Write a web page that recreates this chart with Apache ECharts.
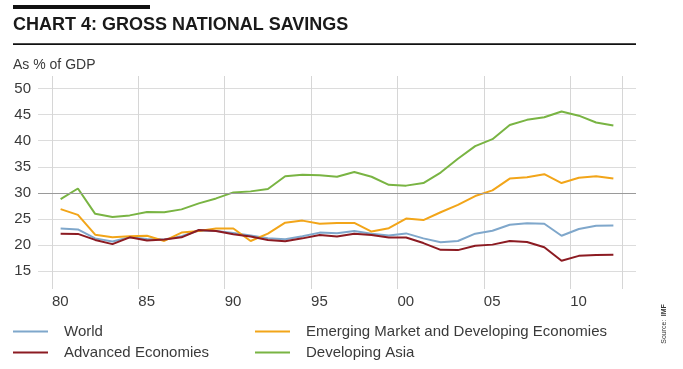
<!DOCTYPE html>
<html>
<head>
<meta charset="utf-8">
<script src="https://cdn.jsdelivr.net/npm/echarts@6/dist/echarts.min.js"></script>
<style>
html,body{margin:0;padding:0;background:#fff;}
#chart{width:683px;height:369px;}
</style>
</head>
<body>
<div id="chart"></div>
<script>
// Years (data plotted at mid-year)
var years = [1980,1981,1982,1983,1984,1985,1986,1987,1988,1989,1990,1991,1992,1993,1994,1995,1996,1997,1998,1999,2000,2001,2002,2003,2004,2005,2006,2007,2008,2009,2010,2011,2012];
var world    = [23.2,23.0,21.3,20.7,21.5,21.2,21.1,21.7,22.8,22.7,22.35,21.85,21.3,21.15,21.7,22.4,22.3,22.7,22.2,21.85,22.25,21.3,20.55,20.8,22.2,22.75,23.9,24.2,24.1,21.8,23.1,23.7,23.75];
var emde     = [26.9,25.8,22.0,21.5,21.7,21.8,20.8,22.4,22.7,23.2,23.2,20.8,22.2,24.3,24.7,24.1,24.25,24.25,22.6,23.25,25.1,24.8,26.3,27.7,29.4,30.5,32.75,33.0,33.6,31.9,32.9,33.2,32.75];
var advanced = [22.2,22.15,21.0,20.2,21.5,20.9,21.1,21.5,22.9,22.7,22.1,21.65,21.0,20.75,21.3,21.95,21.65,22.2,21.95,21.45,21.45,20.4,19.1,19.05,19.9,20.1,20.8,20.6,19.6,17.0,17.95,18.1,18.15];
var devAsia  = [28.8,30.85,26.0,25.4,25.7,26.35,26.3,26.85,28.0,28.95,30.1,30.3,30.75,33.2,33.5,33.4,33.1,34.0,33.1,31.55,31.4,31.9,33.9,36.55,38.97,40.3,43.0,44.0,44.5,45.6,44.8,43.5,42.9];
var xTickValues = [1980,1985,1990,1995,2000,2005,2010,2013];
var xLabelValues = [1980,1985,1990,1995,2000,2005,2010];
var yTickValues = [15,20,25,30,35,40,45,50];
var seriesNames = ['World','Emerging Market and Developing Economies','Advanced Economies','Developing Asia'];
var colors = ['#7fa7cb','#f2a519','#8c1b22','#79b443'];

var FONT = 'Liberation Sans, Arial, sans-serif';
function pairs(vals){ return years.map(function(y,i){ return [y + 0.5, vals[i]]; }); }

var chart = echarts.init(document.getElementById('chart'), null, {renderer:'canvas'});
var option = {
  animation:false,
  textStyle:{fontFamily: FONT, color:'#333'},
  title:[
    {text:'CHART 4: GROSS NATIONAL SAVINGS', left:13, top:16.5, padding:0, textStyle:{fontFamily:FONT, fontSize:18, fontWeight:'bold', color:'#1a1a1a', lineHeight:18}},
    {text:'As % of GDP', left:13, top:57, padding:0, textStyle:{fontFamily:FONT, fontSize:14, fontWeight:'normal', color:'#3a3a3a', lineHeight:16}}
  ],
  grid:{left:38, right:47, top:76, bottom:80, containLabel:false},
  xAxis:{
    type:'value', min:1979.19, max:2013.81,
    axisLine:{show:false},
    axisTick:{show:false, customValues:xTickValues},
    axisLabel:{customValues:xLabelValues, align:'left', margin:5, fontSize:15, color:'#3a3a3a', fontFamily:FONT,
      formatter:function(v){ return String(v).slice(2); }},
    splitLine:{show:true, lineStyle:{color:'#d6d6d6', width:1}}
  },
  yAxis:{
    type:'value', min:11.6, max:52.4,
    axisLine:{show:false},
    axisTick:{show:false, customValues:yTickValues},
    axisLabel:{customValues:yTickValues, margin:7, fontSize:15, color:'#3a3a3a', fontFamily:FONT},
    splitLine:{show:true, lineStyle:{color:'#dcdcdc', width:1}}
  },
  legend:[
    {data:['World','Advanced Economies'], orient:'vertical', left:13, top:323.5, padding:0, icon:'rect', itemWidth:35, itemHeight:2, itemGap:5,
     selectedMode:false, textStyle:{fontFamily:FONT, fontSize:15, lineHeight:16, color:'#3a3a3a', padding:[0,0,0,11]}},
    {data:['Emerging Market and Developing Economies','Developing Asia'], orient:'vertical', left:255, top:323.5, padding:0, icon:'rect', itemWidth:35, itemHeight:2, itemGap:5,
     selectedMode:false, textStyle:{fontFamily:FONT, fontSize:15, lineHeight:16, color:'#3a3a3a', padding:[0,0,0,11]}}
  ],
  series:[
    {type:'line', name:'_ref', data:[], silent:true, z:1,
     markLine:{silent:true, symbol:'none', label:{show:false}, lineStyle:{color:'#9a9a9a', width:1, type:'solid'}, data:[{yAxis:30}], animation:false}},
    {type:'line', name:seriesNames[0], data:pairs(world), showSymbol:false, symbol:'none', z:3, lineStyle:{color:colors[0], width:2}, itemStyle:{color:colors[0]}},
    {type:'line', name:seriesNames[1], data:pairs(emde), showSymbol:false, symbol:'none', z:3, lineStyle:{color:colors[1], width:2}, itemStyle:{color:colors[1]}},
    {type:'line', name:seriesNames[2], data:pairs(advanced), showSymbol:false, symbol:'none', z:3, lineStyle:{color:colors[2], width:2}, itemStyle:{color:colors[2]}},
    {type:'line', name:seriesNames[3], data:pairs(devAsia), showSymbol:false, symbol:'none', z:3, lineStyle:{color:colors[3], width:2}, itemStyle:{color:colors[3]}}
  ],
  graphic:[
    {type:'rect', shape:{x:13, y:5, width:137, height:4}, style:{fill:'#111'}},
    {type:'rect', shape:{x:13, y:43.3, width:623, height:1.8}, style:{fill:'#111'}},
    {type:'text', x:664, y:324, rotation:Math.PI/2,
     style:{text:'{a|Source:} {b|IMF}', align:'center', verticalAlign:'middle', fill:'#333',
       rich:{a:{fontSize:7, fontFamily:FONT, fill:'#333'}, b:{fontSize:7, fontFamily:FONT, fontWeight:'bold', fill:'#333'}}}}
  ]
};
chart.setOption(option);
</script>
</body>
</html>
